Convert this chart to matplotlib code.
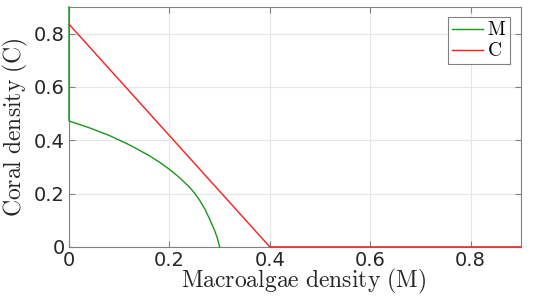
import matplotlib
matplotlib.use('Agg')
import matplotlib.pyplot as plt

# M nullcline (green): vertical part at M=0 plus curved branch
m_null_M = [0.0, 0.0, 0.04, 0.08, 0.12, 0.16, 0.18, 0.2, 0.22, 0.24, 0.25, 0.26, 0.27, 0.28, 0.29, 0.295, 0.3]
m_null_C = [0.9, 0.472, 0.447, 0.418, 0.383, 0.342, 0.318, 0.291, 0.26, 0.224, 0.202, 0.176, 0.144, 0.105, 0.062, 0.036, 0.0]
# C nullcline (red)
c_null_M = [0.0, 0.4, 0.9]
c_null_C = [0.835, 0.0, 0.0]

plt.rcParams['mathtext.fontset'] = 'cm'
fig = plt.figure(figsize=(5.45, 3.0), dpi=100)
ax = fig.add_axes([0.1266, 0.177, 0.829, 0.8])

ax.plot(m_null_M, m_null_C, color='#1a961a', lw=1.0, label=r'$\mathrm{M}$', zorder=3, clip_on=False)
ax.plot(c_null_M, c_null_C, color='#ff1a1a', lw=1.0, label=r'$\mathrm{C}$', zorder=3, clip_on=False)

ax.set_xlim(0, 0.9)
ax.set_ylim(0, 0.9)
ax.set_xticks([0, 0.2, 0.4, 0.6, 0.8])
ax.set_yticks([0, 0.2, 0.4, 0.6, 0.8])
ax.set_xticklabels(['0', '0.2', '0.4', '0.6', '0.8'])
ax.set_yticklabels(['0', '0.2', '0.4', '0.6', '0.8'])
ax.grid(True, color='#e6e6e6', lw=0.8)
ax.set_axisbelow(True)
ax.tick_params(direction='in', length=4, color='#808080', labelsize=14, pad=3,
               top=True, right=True, labelcolor='#262626')
for s in ax.spines.values():
    s.set_color('#808080')
    s.set_linewidth(0.8)

ax.set_xlabel(r'$\mathrm{Macroalgae\ density\ (M)}$', fontsize=17, color='#262626')
ax.xaxis.set_label_coords(0.52, -0.085)
ax.set_ylabel(r'$\mathrm{Coral\ density\ (C)}$', fontsize=17, labelpad=3, color='#262626')

leg = ax.legend(loc='upper right', bbox_to_anchor=(0.975, 0.96), fontsize=14, fancybox=False,
                framealpha=1, edgecolor='#808080', handlelength=1.6, handletextpad=0.2,
                borderpad=0.2, labelspacing=0.1, borderaxespad=0)
leg.get_frame().set_linewidth(0.8)
leg.set_zorder(5)

fig.savefig('out.png', dpi=100)
